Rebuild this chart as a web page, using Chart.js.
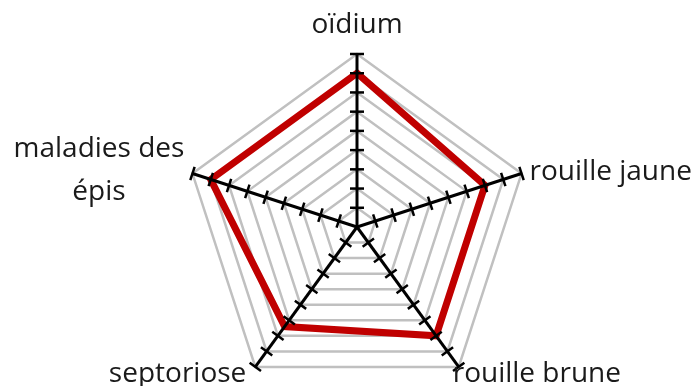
<!DOCTYPE html>
<html>
<head>
<meta charset="utf-8">
<script src="https://cdn.jsdelivr.net/npm/chart.js@4"></script>
<style>
  html, body { margin: 0; padding: 0; background: #fff; overflow: hidden; }
  #wrap { width: 700px; height: 400px; }
</style>
</head>
<body>
<div id="wrap"><canvas id="radar"></canvas></div>
<script>
const categories = ["oïdium", "rouille jaune", "rouille brune", "septoriose", ["maladies des", "épis"]];
const notes = [8, 7, 7, 6.4, 8];
const echelleMax = 9;
const tickValues = [1, 2, 3, 4, 5, 6, 7, 8, 9];

// axes noirs + graduations, dessinés au-dessus de la courbe
const axesPlugin = {
  id: "axes",
  afterDatasetsDraw(chart) {
    const ctx = chart.ctx;
    const scale = chart.scales.r;
    const n = categories.length;
    ctx.save();
    ctx.strokeStyle = "#000";
    ctx.lineCap = "butt";
    for (let i = 0; i < n; i++) {
      const c = scale.getPointPositionForValue(i, 0);
      const tip = scale.getPointPositionForValue(i, echelleMax);
      ctx.lineWidth = 3;
      ctx.beginPath();
      ctx.moveTo(c.x, c.y);
      ctx.lineTo(tip.x, tip.y);
      ctx.stroke();
      const a = tip.angle;
      const px = -Math.sin(a), py = Math.cos(a);
      ctx.lineWidth = 2.5;
      tickValues.forEach(v => {
        const p = scale.getPointPositionForValue(i, v);
        ctx.beginPath();
        ctx.moveTo(p.x - px * 7, p.y - py * 7);
        ctx.lineTo(p.x + px * 7, p.y + py * 7);
        ctx.stroke();
      });
    }
    ctx.restore();
  },
  afterDraw(chart) {
    const ctx = chart.ctx;
    const scale = chart.scales.r;
    ctx.save();
    ctx.fillStyle = "#1a1a1a";
    ctx.font = "28px 'Open Sans'";
    ctx.textBaseline = "alphabetic";
    const tips = categories.map((c, i) => scale.getPointPositionForValue(i, echelleMax));
    ctx.textAlign = "center";
    ctx.fillText(categories[0], tips[0].x, tips[0].y - 21);
    ctx.textAlign = "left";
    ctx.fillText(categories[1], tips[1].x + 8, tips[1].y + 6.5);
    ctx.fillText(categories[2], tips[2].x - 6, tips[2].y + 15);
    ctx.textAlign = "right";
    ctx.fillText(categories[3], tips[3].x - 9, tips[3].y + 15);
    ctx.textAlign = "center";
    ctx.fillText(categories[4][0], tips[4].x - 93.5, tips[4].y - 16.5);
    ctx.fillText(categories[4][1], tips[4].x - 93.5, tips[4].y + 26.5);
    ctx.restore();
  }
};

new Chart(document.getElementById("radar"), {
  type: "radar",
  data: {
    labels: categories,
    datasets: [{
      data: notes,
      borderColor: "#c00000",
      borderWidth: 7,
      borderJoinStyle: "miter",
      pointRadius: 0,
      fill: false
    }]
  },
  options: {
    responsive: true,
    maintainAspectRatio: false,
    animation: false,
    layout: { padding: { top: 54, bottom: 0, left: 184, right: 170 } },
    plugins: { legend: { display: false }, tooltip: { enabled: false } },
    scales: {
      r: {
        min: 0,
        max: echelleMax,
        ticks: { display: false, stepSize: 1 },
        grid: { color: "#c0c0c0", lineWidth: 2.5 },
        angleLines: { display: false },
        pointLabels: { display: false }
      }
    }
  },
  plugins: [axesPlugin]
});
</script>
</body>
</html>
